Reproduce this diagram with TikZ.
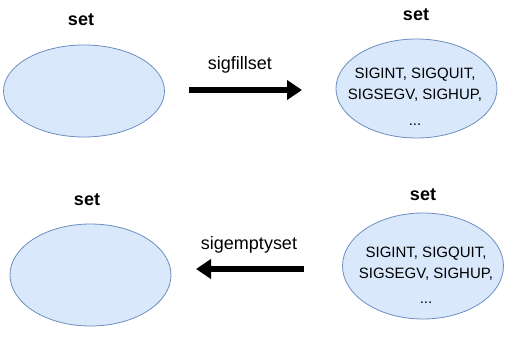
\documentclass[tikz,border=0pt]{standalone}
\usepackage{fontspec}
\setmainfont{Liberation Sans}
\usepackage{xcolor}
\usetikzlibrary{arrows.meta, shapes.geometric}
\definecolor{setfill}{HTML}{DAE8FC}
\definecolor{setline}{HTML}{6C8EBF}

\begin{document}
\begin{tikzpicture}[x=1pt, y=-1pt,
    setshape/.style={ellipse, draw=setline, fill=setfill, line width=0.8pt, inner sep=0pt, minimum width=161pt},
    settitle/.style={font=\bfseries\fontsize{18}{21}\selectfont},
    members/.style={align=center, inner sep=0pt, font=\fontsize{15}{21}\selectfont},
    oplabel/.style={font=\fontsize{18}{21}\selectfont},
    bigarrow/.style={-{Triangle[length=15pt, width=19pt]}, line width=6.5pt}]
  \useasboundingbox (0,0) rectangle (523,338);
  % sigfillset: empty set -> full set
  \node[settitle] (titleA) at (81, 20) {set};
  \node[setshape, minimum height=92pt] (setA) at (84, 91) {};
  \node[settitle] (titleB) at (416, 15) {set};
  \node[setshape, minimum height=99pt] (setB) at (416.5, 88.5) {};
  \node[members] (sigsB) at (415, 97) {SIGINT, SIGQUIT,\\ SIGSEGV, SIGHUP,\\[5pt] ...};
  \coordinate (fillFrom) at (189, 90);
  \coordinate (fillTo) at (302, 90);
  \draw[bigarrow] (fillFrom) -- (fillTo);
  \node[oplabel] (fillOp) at (240, 65) {sigfillset};
  % sigemptyset: full set -> empty set
  \node[settitle] (titleD) at (423, 195) {set};
  \node[setshape, minimum height=106pt] (setD) at (423, 266) {};
  \node[members] (sigsD) at (426, 275) {SIGINT, SIGQUIT,\\ SIGSEGV, SIGHUP,\\[4pt] ...};
  \node[settitle] (titleC) at (87, 200) {set};
  \node[setshape, minimum height=102pt] (setC) at (90.5, 275) {};
  \coordinate (emptyFrom) at (304, 269);
  \coordinate (emptyTo) at (196, 269);
  \draw[bigarrow] (emptyFrom) -- (emptyTo);
  \node[oplabel] (emptyOp) at (249, 245) {sigemptyset};
\end{tikzpicture}
\end{document}
